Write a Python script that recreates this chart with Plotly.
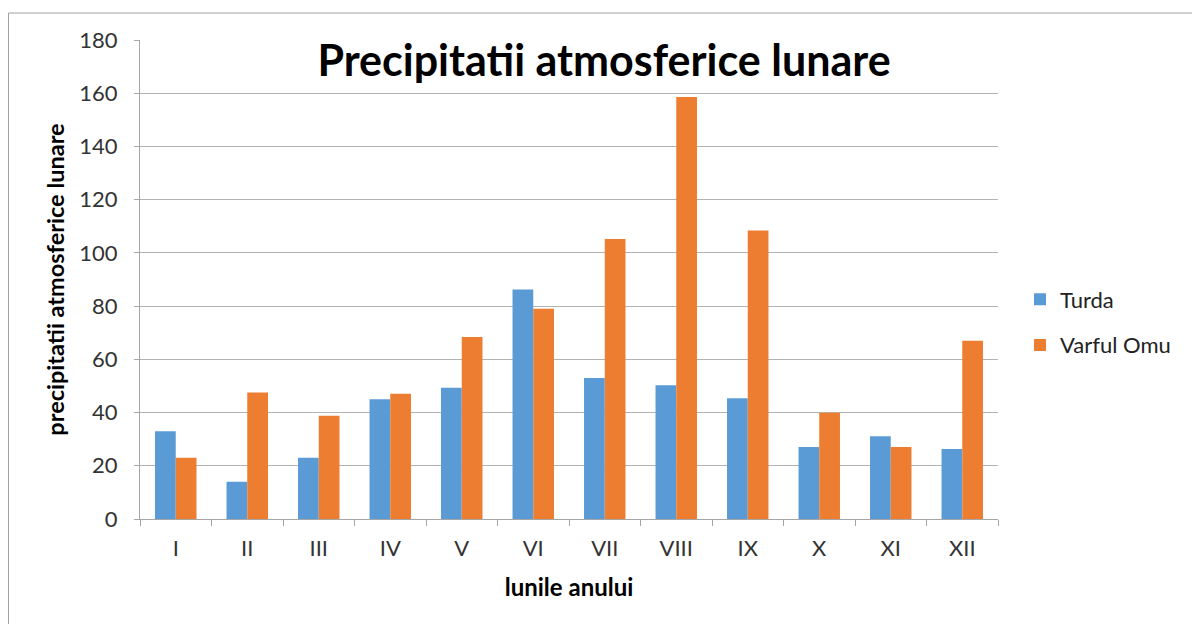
import plotly.graph_objects as go

months = ["I", "II", "III", "IV", "V", "VI", "VII", "VIII", "IX", "X", "XI", "XII"]
turda = [33, 14, 23, 45, 49.3, 86.2, 53, 50.3, 45.4, 27.1, 31.1, 26.3]
varful_omu = [23, 47.5, 38.8, 47.1, 68.4, 79, 105.2, 158.6, 108.4, 39.9, 27.1, 67]
y_ticks = [0, 20, 40, 60, 80, 100, 120, 140, 160, 180]

# page has an 8px body margin; figure coordinates = screen - 8
W, H = 1192, 616
L, R_EDGE, T, B_EDGE = 132, 990, 32, 511

fig = go.Figure()
fig.add_trace(go.Bar(x=months, y=turda, name="Turda", marker_color="#5B9BD5",
                     marker_line_width=0, legendgroup="a"))
fig.add_trace(go.Bar(x=months, y=varful_omu, name="Varful Omu", marker_color="#ED7D31",
                     marker_line_width=0, legendgroup="b"))

pw = R_EDGE - L
ph = B_EDGE - T
fig.update_layout(
    width=W, height=H,
    margin=dict(l=L, r=W - R_EDGE, t=T, b=H - B_EDGE, pad=0),
    paper_bgcolor="white", plot_bgcolor="white",
    barmode="group", bargap=0.42, bargroupgap=0,
    font=dict(family="Lato, Open Sans, sans-serif", size=22, color="#222"),
    title=dict(text="<b>Precipitatii atmosferice lunare</b>", x=596 / W, xanchor="center",
               y=1 - 53 / H, yanchor="middle",
               font=dict(family="Lato, Open Sans", size=43, color="black")),
    legend=dict(x=(1012 - L) / pw, xanchor="left", y=(B_EDGE - 314.5) / ph, yanchor="middle",
                font=dict(size=22, color="#222"), tracegroupgap=14,
                traceorder="grouped", bgcolor="rgba(0,0,0,0)"),
    xaxis=dict(title=dict(text="<b>lunile anului</b>", font=dict(size=24, color="black"), standoff=18),
               showline=True, linecolor="#a6a6a6", linewidth=1,
               ticks="outside", tickson="boundaries", ticklen=6, tickcolor="#a6a6a6",
               ticklabelstandoff=10,
               tickfont=dict(size=22, color="#333")),
    yaxis=dict(title=dict(text="<b>precipitatii atmosferice lunare</b>", font=dict(size=23.5, color="black"),
                          standoff=8),
               range=[0, 180], tickvals=y_ticks, showline=True, linecolor="#a6a6a6", linewidth=1,
               gridcolor="#b3b3b3", gridwidth=1, ticks="outside", ticklen=5, tickcolor="#a6a6a6",
               ticklabelstandoff=12,
               tickfont=dict(size=22, color="#333"), zeroline=False),
    shapes=[dict(type="rect", xref="paper", yref="paper",
                 x0=(0.5 - L) / pw, x1=1.5, y0=-0.5, y1=1 + (T - (13 - 8)) / ph,
                 line=dict(color="#a0a0a0", width=1), fillcolor="rgba(0,0,0,0)", layer="below")],
)

fig.write_html("out.html")
